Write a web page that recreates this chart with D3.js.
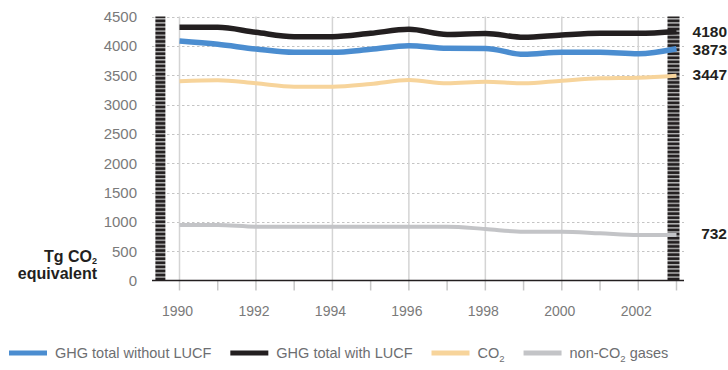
<!DOCTYPE html>
<html>
<head>
<meta charset="utf-8">
<script src="https://cdn.jsdelivr.net/npm/d3@7"></script>
<style>
  html, body { margin: 0; padding: 0; background: #ffffff; }
  svg { display: block; }
  text { font-family: "Liberation Sans", Arial, Helvetica, sans-serif; }
</style>
</head>
<body>
<svg id="chart" width="728" height="370"></svg>
<script>
// ---- data ----
const years = [1990, 1991, 1992, 1993, 1994, 1995, 1996, 1997, 1998, 1999, 2000, 2001, 2002, 2003];
const ghgWithoutLUCF = [4082, 4026, 3946, 3889, 3889, 3940, 4002, 3957, 3955, 3855, 3889, 3889, 3865, 3950];
const ghgWithLUCF    = [4315, 4315, 4230, 4156, 4156, 4213, 4281, 4195, 4212, 4145, 4185, 4213, 4213, 4245];
const co2            = [3398, 3414, 3361, 3304, 3304, 3349, 3417, 3361, 3389, 3361, 3406, 3446, 3457, 3491];
const nonCO2         = [946, 946, 917, 917, 917, 917, 917, 917, 878, 832, 832, 805, 775, 775];
const yTicks = [0, 500, 1000, 1500, 2000, 2500, 3000, 3500, 4000, 4500];
const xLabelYears = [1990, 1992, 1994, 1996, 1998, 2000, 2002];
const endLabels = [
  { value: 4180, text: "4180" },
  { value: 3873, text: "3873" },
  { value: 3447, text: "3447" },
  { value: 732,  text: "732" }
];
const seriesNames = ["GHG total without LUCF", "GHG total with LUCF", "CO2", "non-CO2 gases"];
const seriesColors = ["#4b8dd0", "#231f20", "#f7d49b", "#c3c4c7"];

// ---- chart ----
const svg = d3.select("#chart");
const x = d3.scaleLinear().domain([1990, 2003]).range([179.5, 676.5]);
const y = d3.scaleLinear().domain([0, 4500]).range([280.5, 16.5]);
const xLeft = 152, xRight = 684;

// stripe pattern for the two marker bars
const defs = svg.append("defs");
const pat = defs.append("pattern").attr("id", "stripes")
  .attr("patternUnits", "userSpaceOnUse").attr("width", 20).attr("height", 4.1)
  .attr("y", 16.5);
pat.append("rect").attr("width", 20).attr("height", 4.1).attr("fill", "#231f20");
pat.append("rect").attr("y", 1.6).attr("width", 20).attr("height", 1.4).attr("fill", "#b8b8b8");

// horizontal dashed gridlines
svg.append("g").selectAll("line").data(yTicks.filter(d => d > 0)).join("line")
  .attr("x1", xLeft).attr("x2", xRight)
  .attr("y1", d => Math.round(y(d)) + 0.5).attr("y2", d => Math.round(y(d)) + 0.5)
  .attr("stroke", "#c4c4c4").attr("stroke-width", 1).attr("stroke-dasharray", "2.5,2.5");

// vertical gridlines (even years)
svg.append("g").selectAll("line").data(xLabelYears).join("line")
  .attr("x1", d => x(d)).attr("x2", d => x(d))
  .attr("y1", y(4500)).attr("y2", y(0))
  .attr("stroke", "#d4d4d4").attr("stroke-width", 1.5);

// x axis ticks (every year)
svg.append("g").selectAll("line").data(years).join("line")
  .attr("x1", d => x(d)).attr("x2", d => x(d))
  .attr("y1", y(0)).attr("y2", y(0) + 10)
  .attr("stroke", "#c8c8c8").attr("stroke-width", 1.5);

// striped marker bars
svg.append("rect").attr("x", x(1989.5) - 5).attr("y", y(4500))
  .attr("width", 10).attr("height", y(0) - y(4500)).attr("fill", "url(#stripes)");
svg.append("rect").attr("x", x(2003) - 9).attr("y", y(4500))
  .attr("width", 12).attr("height", y(0) - y(4500)).attr("fill", "url(#stripes)");

// baseline
svg.append("line").attr("x1", xLeft).attr("x2", xRight)
  .attr("y1", y(0)).attr("y2", y(0)).attr("stroke", "#231f20").attr("stroke-width", 1.5);

// y tick labels
svg.append("g").selectAll("text").data(yTicks).join("text")
  .attr("x", 137).attr("y", d => y(d)).attr("dy", "0.36em")
  .attr("text-anchor", "end").attr("font-size", 15).attr("fill", "#7a7a7a")
  .text(d => d);

// x tick labels
svg.append("g").selectAll("text").data(xLabelYears).join("text")
  .attr("x", d => x(d) - 2).attr("y", 311).attr("dy", "0.36em")
  .attr("text-anchor", "middle").attr("font-size", 14).attr("fill", "#7a7a7a")
  .text(d => d);

// y axis title
const t1 = svg.append("text").attr("x", 97).attr("y", 262).attr("text-anchor", "end")
  .attr("font-size", 16).attr("font-weight", "bold").attr("fill", "#231f20");
t1.append("tspan").text("Tg CO");
t1.append("tspan").attr("font-size", 9).attr("dy", 2).text("2");
svg.append("text").attr("x", 97).attr("y", 279).attr("text-anchor", "end")
  .attr("font-size", 16).attr("font-weight", "bold").attr("fill", "#231f20")
  .text("equivalent");

// lines
const allSeries = [ghgWithoutLUCF, ghgWithLUCF, co2, nonCO2];
const widths = [5.5, 5.5, 4, 4];
const line = d3.line().x((d, i) => x(years[i])).y(d => y(d)).curve(d3.curveMonotoneX);
const drawOrder = [3, 2, 0, 1];
drawOrder.forEach(k => {
  svg.append("path").datum(allSeries[k])
    .attr("d", line).attr("fill", "none")
    .attr("stroke", seriesColors[k]).attr("stroke-width", widths[k])
    .attr("stroke-linejoin", "round");
});

// end value labels
svg.append("g").selectAll("text").data(endLabels).join("text")
  .attr("x", 727).attr("y", d => y(d.value) - 4).attr("dy", "0.36em")
  .attr("text-anchor", "end").attr("font-size", 15.5).attr("font-weight", "bold")
  .attr("fill", "#231f20").text(d => d.text);

// legend
const lg = svg.append("g");
let cx = 9;
const ly = 353;
seriesNames.forEach((name, k) => {
  lg.append("line").attr("x1", cx).attr("x2", cx + 38).attr("y1", ly).attr("y2", ly)
    .attr("stroke", seriesColors[k]).attr("stroke-width", 5);
  const t = lg.append("text").attr("x", cx + 46).attr("y", ly).attr("dy", "0.36em")
    .attr("font-size", 14.5).attr("fill", "#6d6e71");
  if (name.indexOf("CO2") >= 0) {
    const parts = name.split("CO2");
    t.append("tspan").text(parts[0] + "CO");
    t.append("tspan").attr("font-size", 9.5).attr("dy", 4).text("2");
    t.append("tspan").attr("dy", -4).text(parts[1]);
  } else {
    t.text(name);
  }
  cx = cx + 46 + t.node().getComputedTextLength() + 19;
});
</script>
</body>
</html>
